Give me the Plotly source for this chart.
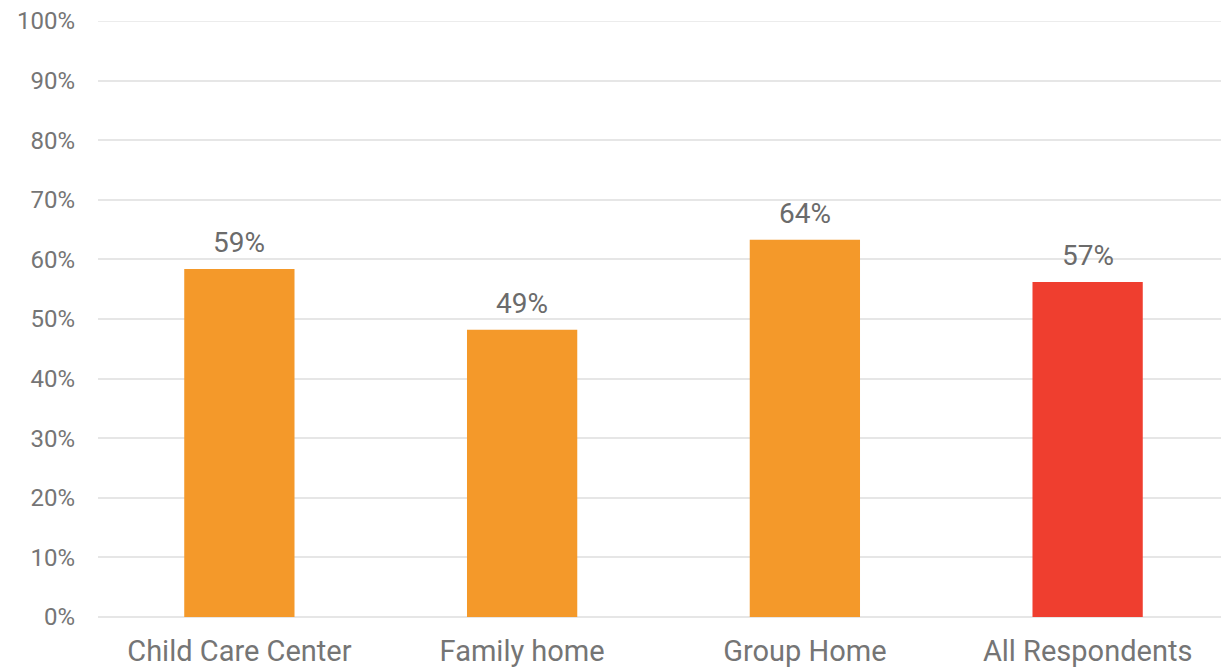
import plotly.graph_objects as go

categories = ["Child Care Center", "Family home", "Group Home", "All Respondents"]
values = [58.4, 48.2, 63.3, 56.2]
labels = ["59%", "49%", "64%", "57%"]
colors = ["#F4992A", "#F4992A", "#F4992A", "#EF3E2F"]
y_ticks = list(range(0, 101, 10))
y_tick_labels = [f"{t}%" for t in y_ticks]

fig = go.Figure()
fig.add_trace(go.Bar(
    x=categories, y=values, marker=dict(color=colors, line=dict(width=0)),
    hoverinfo="skip", showlegend=False,
))
for c, v, t in zip(categories, values, labels):
    fig.add_annotation(x=c, y=v, text=t, showarrow=False, yanchor="bottom",
                       yshift=8, font=dict(family="Roboto", size=28, color="#6b6b6b"))

# top gridline (plotly hides the grid line at the range edge)
fig.add_shape(type="line", xref="paper", yref="y", x0=0, x1=1, y0=100, y1=100,
              line=dict(color="#e6e6e6", width=1.5), layer="below")

fig.update_layout(
    width=1229, height=669,
    margin=dict(l=90, r=8, t=13, b=60),
    paper_bgcolor="white", plot_bgcolor="white",
    bargap=0.61,
    font=dict(family="Roboto", color="#757575"),
)
fig.update_xaxes(showgrid=False, showline=False, ticks="", ticklabelstandoff=14,
                 automargin=False,
                 tickfont=dict(family="Roboto", size=29, color="#757575"))
fig.update_yaxes(range=[0, 100], tickvals=y_ticks, ticktext=y_tick_labels,
                 showgrid=True, gridcolor="#e6e6e6", gridwidth=1.5,
                 zeroline=True, zerolinecolor="#e6e6e6", zerolinewidth=2,
                 showline=False, ticks="", ticklabelstandoff=22,
                 ticklabeloverflow="allow", automargin=False,
                 tickfont=dict(family="Roboto", size=24, color="#757575"))

fig.write_html("out.html")
